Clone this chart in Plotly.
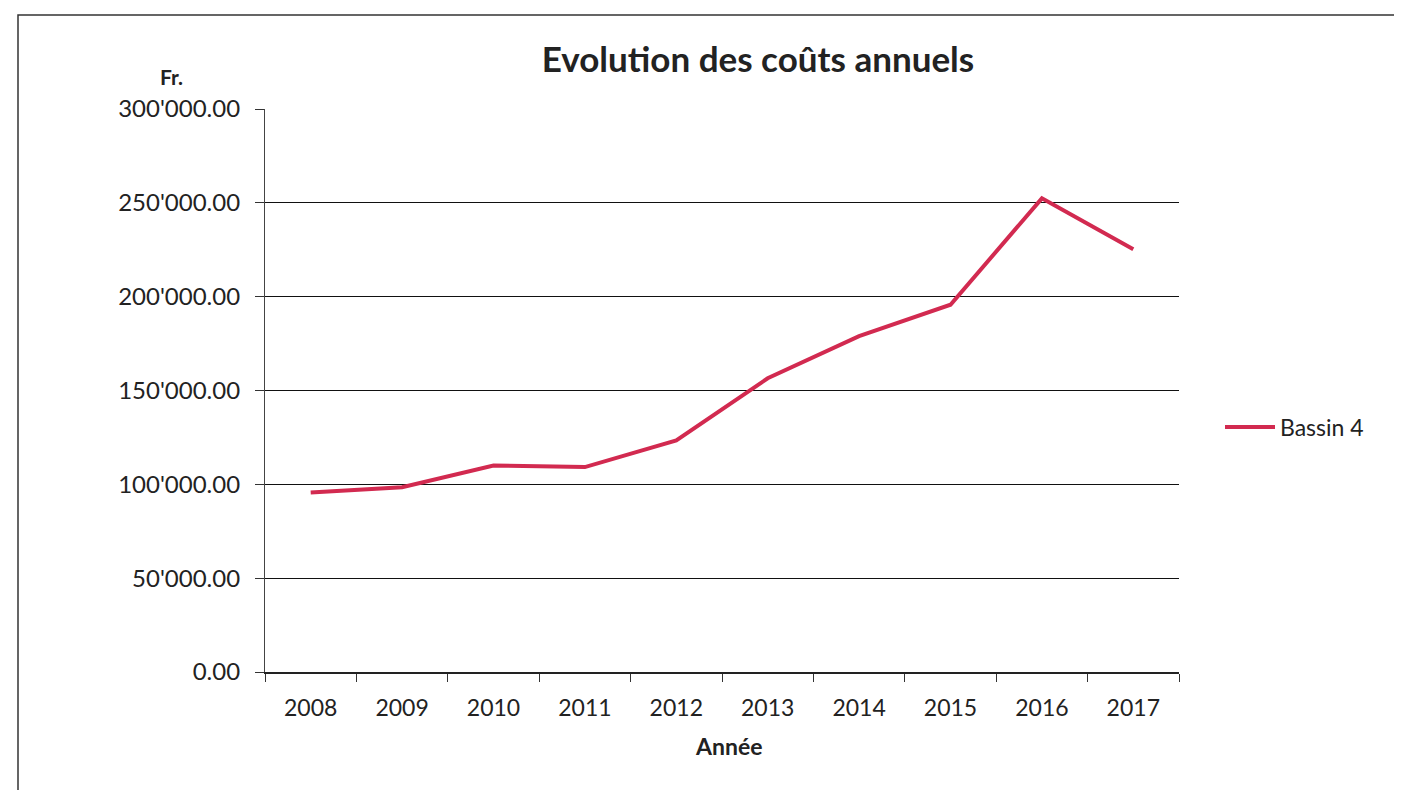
import plotly.graph_objects as go

years = ["2008", "2009", "2010", "2011", "2012", "2013", "2014", "2015", "2016", "2017"]
costs = [95600, 98500, 110000, 109200, 123400, 156500, 179000, 195700, 252400, 225300]
series_name = "Bassin 4"
y_tick_vals = [0, 50000, 100000, 150000, 200000, 250000, 300000]
y_tick_text = ["0.00", "50'000.00", "100'000.00", "150'000.00", "200'000.00", "250'000.00", "300'000.00"]

OFF = 8  # page margin of the html body
W, H = 1402 - OFF, 790 - OFF
# desired plot area in page pixels
PL, PR, PT, PB = 265, 1179, 109, 672
L, R, T, B = PL - OFF, PR - OFF, PT - OFF, PB - OFF
font = "Lato, 'Open Sans', sans-serif"


def px_x(px):
    return (px - PL) / (PR - PL)


def px_y(py):
    return (PB - py) / (PB - PT)


fig = go.Figure()
fig.add_trace(go.Scatter(x=years, y=costs, mode="lines", name=series_name,
                         line=dict(color="#d22a50", width=4)))

fig.update_layout(
    width=W, height=H, autosize=False,
    margin=dict(l=L, r=W - R, t=T, b=H - B, pad=0),
    paper_bgcolor="white", plot_bgcolor="white",
    font=dict(family=font, size=23, color="#222"),
    title=dict(text="<b>Evolution des coûts annuels</b>", x=(758 - OFF) / W, xanchor="center",
               y=1 - (60 - OFF) / H, yanchor="middle", font=dict(size=35, color="#222")),
    showlegend=True,
    legend=dict(x=px_x(1220), y=px_y(427), xanchor="left", yanchor="middle",
                itemwidth=50, font=dict(size=23, color="#222"), bgcolor="rgba(0,0,0,0)"),
    xaxis=dict(type="category", range=[-0.5, 9.5], tickson="boundaries", ticks="outside",
               ticklen=8, tickcolor="#333", showline=True, linecolor="#222", linewidth=1.5,
               showgrid=False, ticklabelstandoff=15, tickfont=dict(size=23, color="#222")),
    yaxis=dict(range=[0, 300000], tickvals=y_tick_vals, ticktext=y_tick_text,
               ticks="outside", ticklen=9, tickcolor="#333", showline=True,
               linecolor="#444", linewidth=1.2, showgrid=True, gridcolor="#111",
               gridwidth=1.4, zeroline=False, ticklabelstandoff=10,
               tickfont=dict(size=24, color="#222")),
)

fig.add_annotation(text="<b>Fr.</b>", xref="paper", yref="paper", x=px_x(171), y=px_y(76),
                   xanchor="center", yanchor="middle",
                   showarrow=False, font=dict(size=21, color="#222"))
fig.add_annotation(text="<b>Année</b>", xref="paper", yref="paper", x=px_x(728), y=px_y(746),
                   xanchor="center", yanchor="middle",
                   showarrow=False, font=dict(size=23, color="#222"))
fig.add_shape(type="rect", xref="paper", yref="paper",
              x0=px_x(18), x1=px_x(1430), y0=px_y(820), y1=px_y(15),
              line=dict(color="#333", width=1.5), layer="below")

fig.write_html("out.html")
